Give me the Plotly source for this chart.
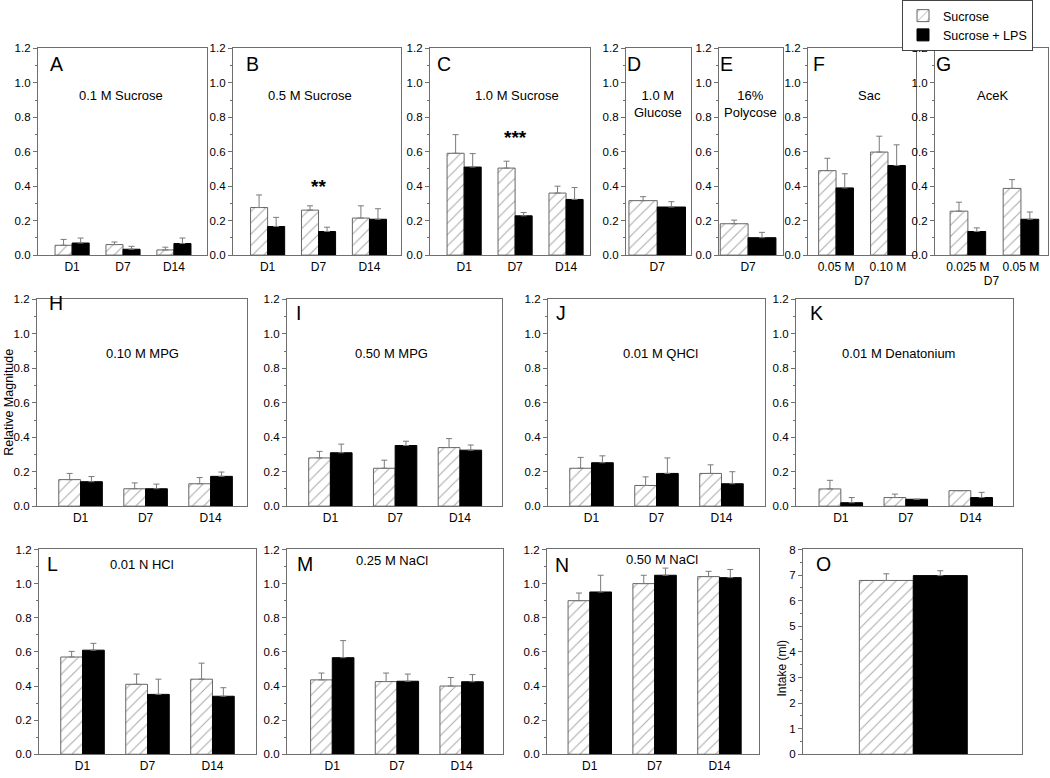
import plotly.graph_objects as go

W, H = 1050, 778

days = ["D1", "D7", "D14"]

# ---- data ----
A_suc = [0.057, 0.061, 0.030]; A_suc_err = [0.034, 0.015, 0.016]
A_lps = [0.070, 0.034, 0.067]; A_lps_err = [0.029, 0.017, 0.032]

B_suc = [0.276, 0.261, 0.215]; B_suc_err = [0.073, 0.025, 0.071]
B_lps = [0.166, 0.137, 0.208]; B_lps_err = [0.053, 0.025, 0.061]

C_suc = [0.591, 0.505, 0.360]; C_suc_err = [0.108, 0.040, 0.040]
C_lps = [0.511, 0.228, 0.323]; C_lps_err = [0.078, 0.019, 0.069]

D_cats = ["D7"]
D_suc = [0.316]; D_suc_err = [0.023]
D_lps = [0.279]; D_lps_err = [0.031]

E_cats = ["D7"]
E_suc = [0.182]; E_suc_err = [0.021]
E_lps = [0.101]; E_lps_err = [0.031]

F_cats = ["0.05 M", "0.10 M"]
F_suc = [0.490, 0.598]; F_suc_err = [0.072, 0.092]
F_lps = [0.390, 0.520]; F_lps_err = [0.082, 0.120]

G_cats = ["0.025 M", "0.05 M"]
G_suc = [0.255, 0.387]; G_suc_err = [0.052, 0.051]
G_lps = [0.137, 0.208]; G_lps_err = [0.021, 0.042]

H_suc = [0.154, 0.101, 0.130]; H_suc_err = [0.036, 0.034, 0.036]
H_lps = [0.142, 0.101, 0.173]; H_lps_err = [0.030, 0.027, 0.025]

I_suc = [0.280, 0.220, 0.340]; I_suc_err = [0.038, 0.047, 0.052]
I_lps = [0.310, 0.352, 0.325]; I_lps_err = [0.050, 0.025, 0.030]

J_suc = [0.220, 0.120, 0.190]; J_suc_err = [0.063, 0.050, 0.050]
J_lps = [0.252, 0.190, 0.130]; J_lps_err = [0.040, 0.090, 0.070]

K_suc = [0.100, 0.050, 0.090]; K_suc_err = [0.050, 0.020, 0.000]
K_lps = [0.020, 0.040, 0.050]; K_lps_err = [0.030, 0.000, 0.030]

L_suc = [0.570, 0.410, 0.440]; L_suc_err = [0.033, 0.060, 0.094]
L_lps = [0.610, 0.351, 0.340]; L_lps_err = [0.040, 0.089, 0.050]

M_suc = [0.436, 0.426, 0.400]; M_suc_err = [0.040, 0.050, 0.050]
M_lps = [0.566, 0.428, 0.425]; M_lps_err = [0.100, 0.042, 0.042]

N_suc = [0.900, 1.000, 1.041]; N_suc_err = [0.045, 0.049, 0.031]
N_lps = [0.951, 1.049, 1.035]; N_lps_err = [0.098, 0.042, 0.048]

O_cats = ["Intake"]
O_suc = [6.79]; O_suc_err = [0.26]
O_lps = [6.98]; O_lps_err = [0.19]

series_names = ["Sucrose", "Sucrose + LPS"]

# ---- layout of panels (pixel boxes) ----
ROW_Y = {1: (43, 253), 2: (298, 508), 3: (552, 760)}

panels = [
    # letter, cats, suc, suc_err, lps, lps_err, x0, x1, row, xrange, yrange
    ("A", days, A_suc, A_suc_err, A_lps, A_lps_err, 38, 207, 1, [-0.67, 2.65], [0, 1.2]),
    ("B", days, B_suc, B_suc_err, B_lps, B_lps_err, 233, 401, 1, [-0.68, 2.62], [0, 1.2]),
    ("C", days, C_suc, C_suc_err, C_lps, C_lps_err, 430, 590, 1, [-0.67, 2.47], [0, 1.2]),
    ("D", D_cats, D_suc, D_suc_err, D_lps, D_lps_err, 626, 691, 1, [-0.37, 0.40], [0, 1.2]),
    ("E", E_cats, E_suc, E_suc_err, E_lps, E_lps_err, 719, 783, 1, [-0.35, 0.42], [0, 1.2]),
    ("F", F_cats, F_suc, F_suc_err, F_lps, F_lps_err, 808, 916, 1, [-0.54, 1.54], [0, 1.2]),
    ("G", G_cats, G_suc, G_suc_err, G_lps, G_lps_err, 935, 1048, 1, [-0.62, 1.51], [0, 1.2]),
    ("H", days, H_suc, H_suc_err, H_lps, H_lps_err, 37, 247, 2, [-0.67, 2.56], [0, 1.2]),
    ("I", days, I_suc, I_suc_err, I_lps, I_lps_err, 287, 502, 2, [-0.67, 2.65], [0, 1.2]),
    ("J", days, J_suc, J_suc_err, J_lps, J_lps_err, 548, 765, 2, [-0.67, 2.67], [0, 1.2]),
    ("K", days, K_suc, K_suc_err, K_lps, K_lps_err, 796, 1013, 2, [-0.69, 2.65], [0, 1.2]),
    ("L", days, L_suc, L_suc_err, L_lps, L_lps_err, 39, 256, 3, [-0.67, 2.67], [0, 1.2]),
    ("M", days, M_suc, M_suc_err, M_lps, M_lps_err, 287, 503, 3, [-0.70, 2.64], [0, 1.2]),
    ("N", days, N_suc, N_suc_err, N_lps, N_lps_err, 547, 759, 3, [-0.66, 2.61], [0, 1.2]),
    ("O", O_cats, O_suc, O_suc_err, O_lps, O_lps_err, 803, 1022, 3, [-0.685, 0.675], [0, 8]),
]

AX = "#6f6f6f"
FONT = "Liberation Sans, Arial, Helvetica, sans-serif"

fig = go.Figure()
layout = {}

for i, (letter, cats, suc, suc_err, lps, lps_err, x0, x1, row, xr, yr) in enumerate(panels):
    n = i + 1
    xa = "x" if n == 1 else f"x{n}"
    ya = "y" if n == 1 else f"y{n}"
    xkey = "xaxis" if n == 1 else f"xaxis{n}"
    ykey = "yaxis" if n == 1 else f"yaxis{n}"
    ytop, ybot = ROW_Y[row]

    fig.add_trace(go.Bar(
        x=cats, y=suc, name=series_names[0], legendgroup="g", showlegend=(n == 1),
        xaxis=xa, yaxis=ya,
        marker=dict(color="white",
                    pattern=dict(shape="/", fgcolor="#585858", bgcolor="white", size=8, solidity=0.14),
                    line=dict(color="#666666", width=1)),
        error_y=dict(type="data", array=suc_err, arrayminus=[0] * len(suc), symmetric=False,
                     color="#7a7a7a", thickness=1, width=3),
    ))
    fig.add_trace(go.Bar(
        x=cats, y=lps, name=series_names[1], legendgroup="g", showlegend=(n == 1),
        xaxis=xa, yaxis=ya,
        marker=dict(color="black", line=dict(color="black", width=1)),
        error_y=dict(type="data", array=lps_err, arrayminus=[0] * len(lps), symmetric=False,
                     color="#7a7a7a", thickness=1, width=3),
    ))

    layout[xkey] = dict(
        domain=[x0 / W, x1 / W], anchor=ya, type="category",
        categoryorder="array", categoryarray=cats, range=xr,
        showline=True, mirror=True, linecolor=AX, linewidth=1.3,
        ticks="", showgrid=False, zeroline=False,
        tickfont=dict(size=12, color="black", family=FONT),
        showticklabels=(letter != "O"), fixedrange=True,
    )
    if letter in ("F", "G"):
        layout[xkey]["title"] = dict(text="D7", font=dict(size=12, color="black", family=FONT), standoff=0)

    is_o = letter == "O"
    layout[ykey] = dict(
        domain=[1 - ybot / H, 1 - ytop / H], anchor=xa, range=yr,
        dtick=1 if is_o else 0.2, tickformat="d" if is_o else ".1f",
        ticks="outside", ticklen=4, tickcolor=AX, tickwidth=1,
        minor=dict(ticks="outside", ticklen=2, dtick=0.5 if is_o else 0.1, tickcolor=AX),
        showline=True, mirror=True, linecolor=AX, linewidth=1.3,
        showgrid=False, zeroline=False,
        tickfont=dict(size=11.5, color="black", family=FONT), fixedrange=True,
    )

annotations = []

def px_ann(text, cx, cy, size, **kw):
    d = dict(text=text, x=cx / W, y=1 - cy / H, xref="paper", yref="paper",
             showarrow=False, xanchor="center", yanchor="middle",
             font=dict(size=size, color="black", family=FONT))
    d.update(kw)
    return d

letters_pos = {
    "A": (56, 59), "B": (252, 59), "C": (444, 59), "D": (634, 59), "E": (726, 59),
    "F": (819, 59), "G": (943, 59), "H": (56, 302), "I": (298, 312), "J": (561, 312),
    "K": (816, 312), "L": (52, 567), "M": (305, 567), "N": (562, 568), "O": (823, 567),
}
for k, (cx, cy) in letters_pos.items():
    annotations.append(px_ann(k, cx, cy, 19.5))

titles = [
    ("0.1 M Sucrose", 121, 91), ("0.5 M Sucrose", 310, 91), ("1.0 M Sucrose", 517, 91),
    ("1.0 M<br>Glucose", 658, 99.5), ("16%<br>Polycose", 750, 99.5),
    ("Sac", 869.5, 91), ("AceK", 992, 91),
    ("0.10 M MPG", 142, 353), ("0.50 M MPG", 391, 353), ("0.01 M QHCl", 660.5, 353),
    ("0.01 M Denatonium", 898, 353),
    ("0.01 N HCl", 142, 567), ("0.25 M NaCl", 391.5, 563), ("0.50 M NaCl", 661.5, 562),
]
for t, cx, cy in titles:
    annotations.append(px_ann(t, cx, cy, 13))

# significance markers
annotations.append(dict(text="<b>**</b>", x="D7", y=0.40, xref="x2", yref="y2", showarrow=False,
                        font=dict(size=19, color="black", family=FONT)))
annotations.append(dict(text="<b>***</b>", x="D7", y=0.68, xref="x3", yref="y3", showarrow=False,
                        font=dict(size=19, color="black", family=FONT)))

# axis titles
annotations.append(px_ann("Relative Magnitude", 9, 403, 12.5, textangle=-90))
annotations.append(px_ann("Intake (ml)", 782, 673, 12, textangle=-90))

fig.update_layout(
    **layout,
    annotations=annotations,
    barmode="group", bargap=0.33, bargroupgap=0,
    width=W, height=H, margin=dict(l=0, r=0, t=0, b=0),
    paper_bgcolor="white", plot_bgcolor="white",
    font=dict(family=FONT, color="black"),
    legend=dict(x=902 / W, y=1.008, xanchor="left", yanchor="top",
                bordercolor="#444", borderwidth=1, bgcolor="white",
                font=dict(size=12.5, color="black", family=FONT),
                tracegroupgap=0, itemwidth=30),
)

fig.write_html("out.html", config={"displayModeBar": False},
               post_script="document.body.style.margin='0';")
